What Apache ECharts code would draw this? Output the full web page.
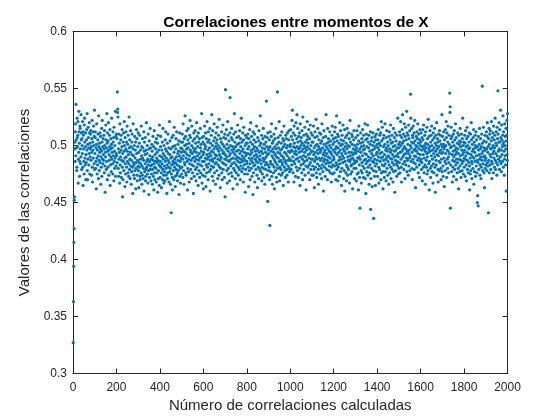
<!DOCTYPE html>
<html>
<head>
<meta charset="utf-8">
<script src="https://cdn.jsdelivr.net/npm/echarts@6/dist/echarts.min.js"></script>
<style>
  html, body { margin: 0; padding: 0; background: #fff; }
  #chart { width: 560px; height: 420px; }
</style>
</head>
<body>
<div id="chart"></div>
<script>
// correlation values in thousandths (index 1..2000)
var corrMil = [
327,363,394,415,427,452,455,497,503,486,512,519,491,536,505,498,478,481,524,507,
499,509,521,467,488,494,530,512,502,473,486,517,515,497,484,490,527,505,511,479,
506,500,493,521,481,465,512,509,497,486,475,518,524,503,489,483,499,511,470,492,
485,505,514,496,528,478,470,501,488,516,507,498,483,493,520,511,475,502,490,497,
510,513,487,499,474,494,506,522,481,468,503,496,489,512,517,500,484,508,531,479,
493,507,512,480,486,498,462,501,519,489,475,496,483,505,510,491,471,526,499,487,
478,502,494,511,485,497,508,466,490,481,495,515,473,503,522,488,499,484,506,492,
487,509,497,476,513,500,482,459,494,490,518,505,479,498,486,528,502,470,511,495,
481,504,520,496,474,492,487,509,499,514,465,483,497,490,506,477,501,524,488,494,
498,484,475,512,503,491,507,469,516,486,495,480,500,489,530,473,508,482,493,510,
491,506,485,547,529,532,525,480,497,473,510,488,502,494,467,519,483,476,490,505,
496,509,472,487,499,514,481,455,493,470,503,486,511,478,495,521,500,489,464,507,
484,475,497,512,490,503,481,468,517,495,486,501,476,509,492,473,484,525,498,479,
505,488,471,494,513,482,499,466,487,477,503,510,492,481,458,497,519,485,491,474,
483,500,471,508,478,489,496,503,462,485,480,514,493,506,474,469,487,499,482,511,
478,494,463,485,502,481,509,473,470,488,496,484,476,517,491,499,466,482,474,506,
489,498,471,480,487,512,460,495,503,477,492,484,507,469,473,479,496,520,481,486,
493,500,475,488,467,510,483,478,457,497,504,472,486,491,515,479,498,482,469,488,
475,483,501,495,466,479,490,508,487,473,499,461,484,513,476,481,470,492,503,486,
497,480,468,506,489,476,494,485,502,459,487,509,471,478,496,483,465,518,491,482,
472,486,499,508,481,476,463,490,496,484,503,470,479,515,493,488,474,467,500,482,
477,491,469,505,486,497,512,480,474,489,495,458,483,502,471,476,510,487,493,481,
498,468,485,521,477,492,504,480,466,489,497,441,475,483,507,490,472,461,499,486,
509,478,484,470,494,516,481,488,500,473,464,485,497,506,479,490,512,474,483,476,
469,493,501,487,478,495,504,457,482,491,511,473,486,480,467,498,489,503,494,475,
481,497,510,488,503,472,519,491,478,495,466,506,485,500,483,526,494,508,476,489,
474,501,497,513,492,486,461,480,505,498,515,477,488,502,468,491,509,484,522,496,
507,479,494,487,471,500,517,483,493,476,489,504,498,458,482,511,495,473,490,506,
486,513,497,479,502,469,488,494,520,481,508,475,491,499,484,465,511,503,487,478,
493,506,472,489,483,515,498,476,501,490,495,528,482,467,507,486,474,503,492,462,
508,494,479,486,501,517,497,473,489,511,499,464,483,506,476,492,521,488,481,503,
496,470,512,490,484,505,477,498,493,515,460,487,502,479,491,509,482,495,527,488,
473,500,513,486,494,469,481,504,497,519,476,489,507,484,492,466,499,511,485,502,
491,478,505,516,497,471,488,483,500,509,495,474,523,492,481,487,498,463,506,490,
480,503,489,512,476,496,470,485,501,518,493,479,494,507,484,499,472,510,488,455,
492,549,506,483,497,514,490,478,501,467,487,521,509,495,480,475,498,504,486,491,
469,511,542,493,500,482,488,476,507,515,496,484,473,505,499,462,489,494,480,510,
497,485,528,478,503,492,471,512,499,488,483,476,495,507,490,466,501,518,486,481,
474,496,508,489,502,479,513,493,485,470,506,499,482,488,524,495,477,503,491,486,
511,480,497,468,505,516,489,483,494,475,487,500,459,509,479,491,502,493,484,507,
486,502,475,497,510,493,481,464,506,499,489,478,514,484,470,492,503,520,496,487,
480,508,494,473,489,501,485,457,512,497,476,482,505,491,499,510,468,483,488,495,
503,479,492,486,517,498,474,490,463,507,496,485,481,471,504,513,494,488,479,500,
491,526,487,477,502,484,495,509,469,481,498,475,493,506,489,515,480,486,472,501,
488,497,466,508,483,494,479,503,490,539,485,499,474,507,492,451,511,483,496,478,
493,498,481,505,470,430,499,512,486,477,484,495,508,519,473,491,502,466,483,497,
489,504,476,494,510,481,462,487,499,506,492,478,485,515,497,472,490,468,501,483,
547,480,494,507,489,498,503,475,521,486,469,481,493,509,496,487,479,502,474,491,
512,497,485,483,476,506,490,465,499,504,517,488,481,494,501,478,486,472,509,493,
484,506,498,479,474,491,511,500,487,482,468,495,505,513,489,480,477,494,499,487,
501,514,487,479,508,496,483,522,495,531,505,490,476,511,499,486,468,517,502,493,
484,509,498,473,495,520,488,481,492,506,527,499,478,515,503,489,472,497,508,486,
494,511,480,498,465,519,504,490,500,483,507,495,476,513,502,488,470,525,497,484,
491,479,509,500,486,494,516,474,503,498,490,482,461,510,496,487,505,521,499,481,
508,502,492,476,514,489,483,497,506,470,493,518,485,479,500,511,495,488,474,503,
495,509,482,488,503,474,517,492,479,498,463,486,507,512,494,481,500,490,523,476,
488,472,501,508,496,484,515,493,479,466,499,505,489,482,511,497,475,494,487,502,
510,496,480,471,504,519,489,483,498,477,492,507,460,486,513,501,494,481,488,496,
473,491,508,484,527,499,479,502,493,487,470,515,497,485,490,506,503,478,482,495,
500,512,489,476,485,494,504,498,468,481,492,509,517,475,487,501,483,496,506,490,
488,476,503,512,482,494,516,497,507,470,485,499,526,479,492,504,483,510,469,498,
481,508,494,487,502,473,490,520,484,496,477,513,500,505,488,465,493,480,509,501,
491,485,518,497,504,471,489,478,495,514,460,486,499,507,493,476,502,483,469,509,
497,515,481,474,490,500,487,479,511,494,506,499,467,486,522,491,503,475,488,482,
483,494,510,477,501,508,462,489,492,497,484,505,513,480,487,471,500,494,485,496,
493,507,480,469,498,486,513,475,501,489,509,495,476,461,504,517,490,483,472,497,
445,488,502,511,494,478,467,499,506,485,476,491,514,482,503,496,472,509,500,487,
480,497,493,519,471,488,505,458,484,510,492,477,499,506,486,518,474,481,503,490,
498,509,466,487,476,495,483,501,512,444,471,489,504,480,493,507,464,496,486,500,
511,491,478,436,485,503,497,473,488,508,482,465,499,505,477,492,510,484,494,501,
487,473,505,498,514,490,481,467,496,502,479,509,493,486,500,511,470,489,521,476,
504,494,483,516,490,477,462,506,499,487,509,482,472,492,501,519,484,477,496,488,
469,507,498,513,490,480,495,503,474,486,500,491,466,508,483,512,497,476,489,505,
494,518,481,471,502,496,488,509,479,485,492,503,468,499,515,477,483,490,507,495,
459,500,511,487,478,496,504,491,484,473,509,498,486,482,524,493,490,475,501,480,
498,485,512,503,476,509,494,521,500,488,481,468,507,495,514,502,527,490,484,497,
510,504,479,492,519,499,486,471,508,493,516,483,497,505,489,530,477,511,495,487,
501,509,474,493,518,482,506,496,489,513,478,491,500,545,524,486,498,503,515,480,
494,470,509,507,488,517,502,485,496,511,479,491,522,504,497,484,463,500,490,508,
495,481,512,499,506,487,519,493,476,502,510,489,497,483,472,505,514,492,500,486,
503,511,488,479,496,485,507,469,499,514,505,492,481,518,497,476,489,500,509,483,
495,466,512,502,498,487,481,493,516,475,490,506,501,478,523,494,484,497,508,461,
486,499,513,495,480,472,503,509,491,482,517,500,477,488,496,505,467,511,484,493,
476,498,507,515,490,481,502,459,495,509,487,483,500,520,474,492,497,506,503,479,
468,491,510,499,486,478,513,494,504,485,509,496,480,470,501,488,493,527,477,499,
508,494,482,473,501,512,497,489,464,505,499,486,478,514,493,500,484,521,507,472,
511,496,488,480,503,517,495,490,476,485,509,501,493,546,529,534,445,498,483,506,
516,499,477,508,492,468,487,503,481,495,510,473,490,500,513,486,479,505,496,492,
519,483,498,507,470,488,494,476,502,485,511,497,480,493,462,509,501,488,504,477,
482,515,491,499,503,472,487,510,496,484,478,506,492,524,500,486,475,494,503,489,
481,496,509,502,473,488,513,491,499,483,469,506,494,516,487,479,500,508,476,493,
497,485,503,511,482,461,498,489,475,510,478,492,520,505,486,471,484,501,495,490,
480,507,497,514,466,489,503,477,494,486,509,500,473,498,512,482,491,505,476,487,
450,499,456,485,447,508,496,479,492,501,515,488,474,483,497,506,490,471,481,499,
510,493,487,552,502,478,484,495,516,490,504,476,498,463,491,509,487,480,496,483,
489,503,512,497,478,508,520,485,494,482,499,441,506,487,515,476,501,510,492,483,
513,497,479,490,504,521,486,471,498,507,484,493,511,500,476,517,495,489,505,481,
498,509,524,487,479,493,502,512,485,500,474,516,491,506,483,548,510,495,488,503,
520,497,479,514,486,503,490,531,507,484,496,477,518,505,492,499,486,509,526,501,
481,512,503,495,474,488,519,500,491,508,483,497,515,460,504,509,522,492,487,528
];

var xTicks = [0, 200, 400, 600, 800, 1000, 1200, 1400, 1600, 1800, 2000];
var yTicks = [0.3, 0.35, 0.4, 0.45, 0.5, 0.55, 0.6];

var titleText = 'Correlaciones entre momentos de X';
var xName = 'Número de correlaciones calculadas';
var yName = 'Valores de las correlaciones';

var ink = '#262626';
var blue = '#0072BD';
var font = '"Liberation Sans", Arial, Helvetica, sans-serif';

var points = corrMil.map(function(v, i) { return [i + 1, v / 1000]; });

var chart = echarts.init(document.getElementById('chart'), null, { renderer: 'canvas' });

function axisBase(extra) {
  var o = {
    axisLine: { show: true, onZero: false, lineStyle: { color: ink, width: 1 } },
    axisTick: { show: true, inside: true, length: 5, lineStyle: { color: ink } },
    splitLine: { show: false }
  };
  for (var k in extra) o[k] = extra[k];
  return o;
}

chart.setOption({
  animation: false,
  backgroundColor: '#fff',
  title: {
    text: titleText,
    left: 291, top: 10, textAlign: 'center',
    textStyle: { color: '#000', fontSize: 15.5, fontWeight: 'bold', fontFamily: font }
  },
  grid: { left: 73, right: 52.5, top: 31.5, bottom: 46.5, containLabel: false },
  xAxis: [
    axisBase({
      type: 'value', min: xTicks[0], max: xTicks[xTicks.length - 1], interval: 200,
      position: 'bottom',
      name: xName, nameLocation: 'middle', nameGap: 24,
      nameTextStyle: { color: ink, fontSize: 15, fontFamily: font },
      axisLabel: {
        color: ink, fontSize: 12, margin: 8, fontFamily: font,
        formatter: function(v) { return String(v); }
      }
    }),
    axisBase({
      type: 'value', min: xTicks[0], max: xTicks[xTicks.length - 1], interval: 200,
      position: 'top', axisLabel: { show: false }
    })
  ],
  yAxis: [
    axisBase({
      type: 'value', min: yTicks[0], max: yTicks[yTicks.length - 1], interval: 0.05,
      position: 'left',
      name: yName, nameLocation: 'middle', nameGap: 34, nameRotate: 90,
      nameTextStyle: { color: ink, fontSize: 15, fontFamily: font },
      axisLabel: {
        color: ink, fontSize: 12, margin: 6, fontFamily: font,
        formatter: function(v) { return String(+v.toFixed(2)); }
      }
    }),
    axisBase({
      type: 'value', min: yTicks[0], max: yTicks[yTicks.length - 1], interval: 0.05,
      position: 'right', axisLabel: { show: false }
    })
  ],
  series: [{
    type: 'scatter',
    data: points,
    symbol: 'circle',
    symbolSize: 3.2,
    itemStyle: { color: blue, opacity: 1 },
    large: false
  }]
});
</script>
</body>
</html>
